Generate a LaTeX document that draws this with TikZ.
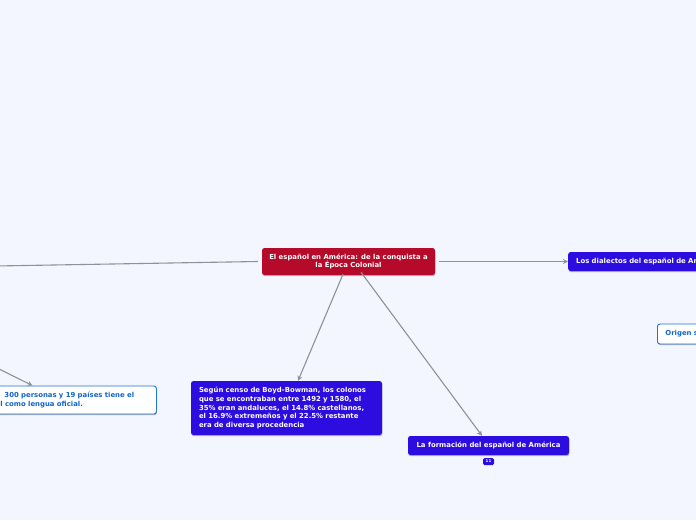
\documentclass[tikz,border=0pt]{standalone}
\usepackage{fontspec}
\setmainfont{DejaVu Sans}
\usetikzlibrary{arrows.meta,shadows}
\definecolor{bgc}{RGB}{243,246,254}
\definecolor{redc}{RGB}{181,10,42}
\definecolor{purc}{RGB}{44,12,222}
\definecolor{bluec}{RGB}{30,115,225}
\definecolor{btext}{RGB}{20,100,200}
\definecolor{linec}{RGB}{140,145,155}
\tikzset{
  base/.style={rounded corners=2.5pt, font=\fontsize{6.9}{8.7}\selectfont\bfseries, inner sep=0pt,
    drop shadow={shadow xshift=0.4pt, shadow yshift=-1.2pt, opacity=0.25, fill=black}},
  redbox/.style={base, fill=redc, text=white, align=center},
  purbox/.style={base, fill=purc, text=white},
  whitebox/.style={base, fill=white, draw=bluec, line width=0.9pt, text=btext},
  conn/.style={draw=linec, line width=1.1pt},
  arr/.style={conn, -{Stealth[length=5pt,width=5pt]}},
}
\begin{document}
\begin{tikzpicture}[x=1pt,y=-1pt]
\fill[bgc] (0,0) rectangle (696,520);
\useasboundingbox (0,0) rectangle (696,520);
\clip (0,0) rectangle (696,520);
% nodes
\node[redbox, minimum width=173pt, minimum height=27pt] (c) at (348.5,261.5)
  {El español en América: de la conquista a\\la Época Colonial};
\node[purbox, anchor=west, minimum width=160pt, minimum height=19pt, inner xsep=8pt, align=left, text width=144pt] (r) at (568,261.5)
  {Los dialectos del español de Am};
\node[whitebox, anchor=west, minimum height=20pt, inner xsep=8pt, text width=60pt, align=left] (o) at (657,334)
  {Origen s};
\node[whitebox, anchor=west, minimum height=28pt, inner xsep=8pt, text width=148pt, align=left] (bl) at (-8,400)
  {\hspace*{4pt}300 personas y 19 países tiene el\\l como lengua oficial.};
\node[purbox, minimum width=191pt, minimum height=54pt, inner xsep=8pt, text width=175pt, align=left] (m) at (286.5,408)
  {Según censo de Boyd-Bowman, los colonos\\que se encontraban entre 1492 y 1580, el\\35\% eran andaluces, el 14.8\% castellanos,\\el 16.9\% extremeños y el 22.5\% restante\\era de diversa procedencia};
\node[purbox, minimum width=161pt, minimum height=19pt, align=center] (f) at (488.5,445.5)
  {La formación del español de América};
\node[fill=purc, text=white, rounded corners=1.5pt, minimum width=11pt, minimum height=7pt, inner sep=0pt,
  font=\fontsize{4}{4}\selectfont\bfseries] (badge) at (488.5,461.5) {11};
% free ends
\coordinate (lf) at (-5,266);
\coordinate (blf) at (-5,367);
% connectors
\draw[conn] ([xshift=-4pt]c.west) -- (lf);
\draw[arr] ([xshift=4pt]c.east) -- (r.west);
\draw[arr] ([xshift=-5.5pt,yshift=1pt]c.south) -- ([xshift=11.5pt]m.north);
\draw[arr] ([xshift=12.5pt,yshift=3pt]c.south) -- ([xshift=-6.5pt]f.north);
\draw[arr] (blf) -- ([xshift=-42pt]bl.north);
\end{tikzpicture}
\end{document}
